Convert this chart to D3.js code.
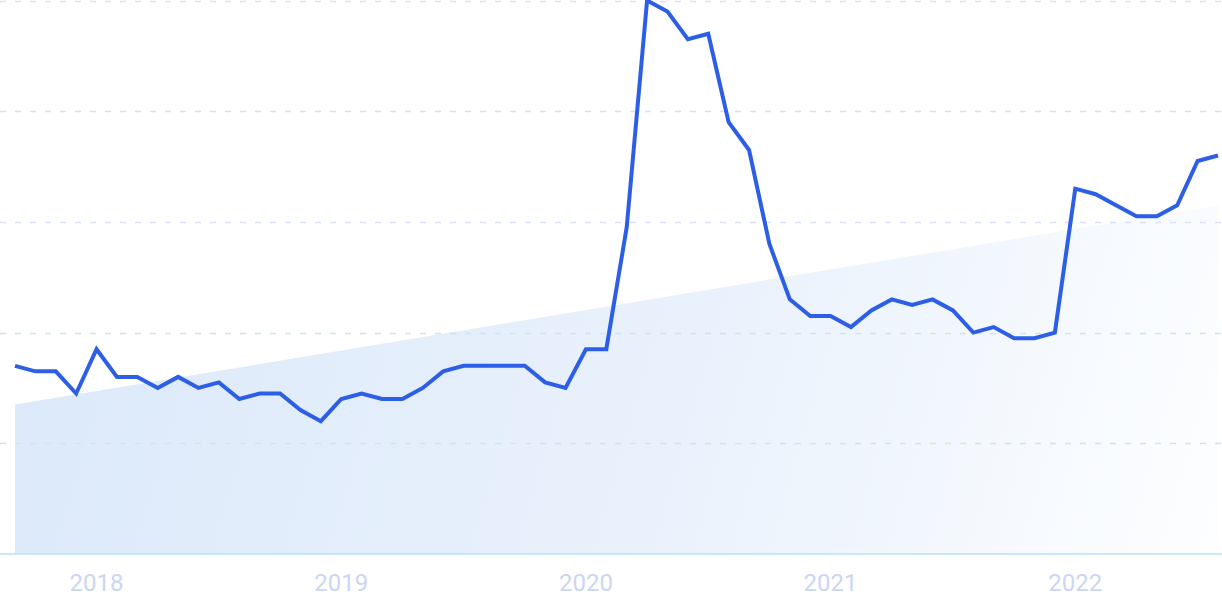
<!DOCTYPE html>
<html>
<head>
<meta charset="utf-8">
<script src="https://cdn.jsdelivr.net/npm/d3@7"></script>
<style>
  html, body { margin: 0; padding: 0; background: #ffffff; }
  svg { display: block; }
</style>
</head>
<body>
<svg id="chart" width="1222" height="610"></svg>
<script>
// ---- Data ----
const months = [
  "2017-09","2017-10","2017-11","2017-12",
  "2018-01","2018-02","2018-03","2018-04","2018-05","2018-06","2018-07","2018-08","2018-09","2018-10","2018-11","2018-12",
  "2019-01","2019-02","2019-03","2019-04","2019-05","2019-06","2019-07","2019-08","2019-09","2019-10","2019-11","2019-12",
  "2020-01","2020-02","2020-03","2020-04","2020-05","2020-06","2020-07","2020-08","2020-09","2020-10","2020-11","2020-12",
  "2021-01","2021-02","2021-03","2021-04","2021-05","2021-06","2021-07","2021-08","2021-09","2021-10","2021-11","2021-12",
  "2022-01","2022-02","2022-03","2022-04","2022-05","2022-06","2022-07","2022-08"
];
const values = [
  34,33,33,29,
  37,32,32,30,32,30,31,28,29,29,26,24,
  28,29,28,28,30,33,34,34,34,34,31,30,
  37,37,59,100,98,93,94,78,73,56,46,43,
  43,41,44,46,45,46,44,40,41,39,39,40,
  66,65,63,61,61,63,71,72
];
const trendValues = [27, 63];           // start / end of the shaded trend band
const yTicks = [0, 20, 40, 60, 80, 100];
const xTickMonths = ["2018-01","2019-01","2020-01","2021-01","2022-01"];
const xTickLabels = ["2018","2019","2020","2021","2022"];

// ---- Layout ----
const W = 1222, H = 610;
const svg = d3.select("#chart");

const x = d3.scalePoint().domain(months).range([15, 1218]);
const y = d3.scaleLinear().domain([0, 100]).range([554, 0.5]);

// gradient
const defs = svg.append("defs");
const grad = defs.append("linearGradient")
  .attr("id", "bandGrad")
  .attr("gradientUnits", "userSpaceOnUse")
  .attr("x1", x(months[0])).attr("y1", y(trendValues[1]))
  .attr("x2", x(months[months.length - 1])).attr("y2", y(0));
grad.append("stop").attr("offset", "0%").attr("stop-color", "#dbe9fa");
grad.append("stop").attr("offset", "55%").attr("stop-color", "#e9f1fc");
grad.append("stop").attr("offset", "100%").attr("stop-color", "#fdfeff");

// trend band
const trendPts = [
  { m: months[0], v: trendValues[0] },
  { m: months[months.length - 1], v: trendValues[1] }
];
const band = d3.area()
  .x(d => x(d.m))
  .y0(y(0))
  .y1(d => y(d.v));
svg.append("path")
  .datum(trendPts)
  .attr("d", band)
  .attr("fill", "url(#bandGrad)");

// gridlines
svg.append("g")
  .selectAll("line")
  .data(yTicks.filter(t => t > 0))
  .join("line")
  .attr("x1", 0).attr("x2", W)
  .attr("y1", d => Math.round(y(d)) + 0.5)
  .attr("y2", d => Math.round(y(d)) + 0.5)
  .attr("stroke", d => (d === 100 || d === 60) ? "#d9e1fb" : "#c9e6f8")
  .attr("stroke-width", 1.5)
  .attr("stroke-dasharray", "6 9");

// baseline
svg.append("line")
  .attr("x1", 0).attr("x2", W)
  .attr("y1", y(0)).attr("y2", y(0))
  .attr("stroke", "#b8e0fa")
  .attr("stroke-width", 1.5);

// x-axis labels
svg.append("g")
  .selectAll("text")
  .data(xTickMonths)
  .join("text")
  .attr("x", d => x(d))
  .attr("y", 591)
  .attr("text-anchor", "middle")
  .attr("font-family", "Roboto, 'Open Sans', sans-serif")
  .attr("font-size", 24)
  .attr("fill", "#cbd6f3")
  .text((d, i) => xTickLabels[i]);

// main line
const line = d3.line()
  .x((d, i) => x(months[i]))
  .y(d => y(d));
svg.append("path")
  .datum(values)
  .attr("d", line)
  .attr("fill", "none")
  .attr("stroke", "#2d5fe6")
  .attr("stroke-width", 4)
  .attr("stroke-linejoin", "miter")
  .attr("stroke-linecap", "butt");
</script>
</body>
</html>
